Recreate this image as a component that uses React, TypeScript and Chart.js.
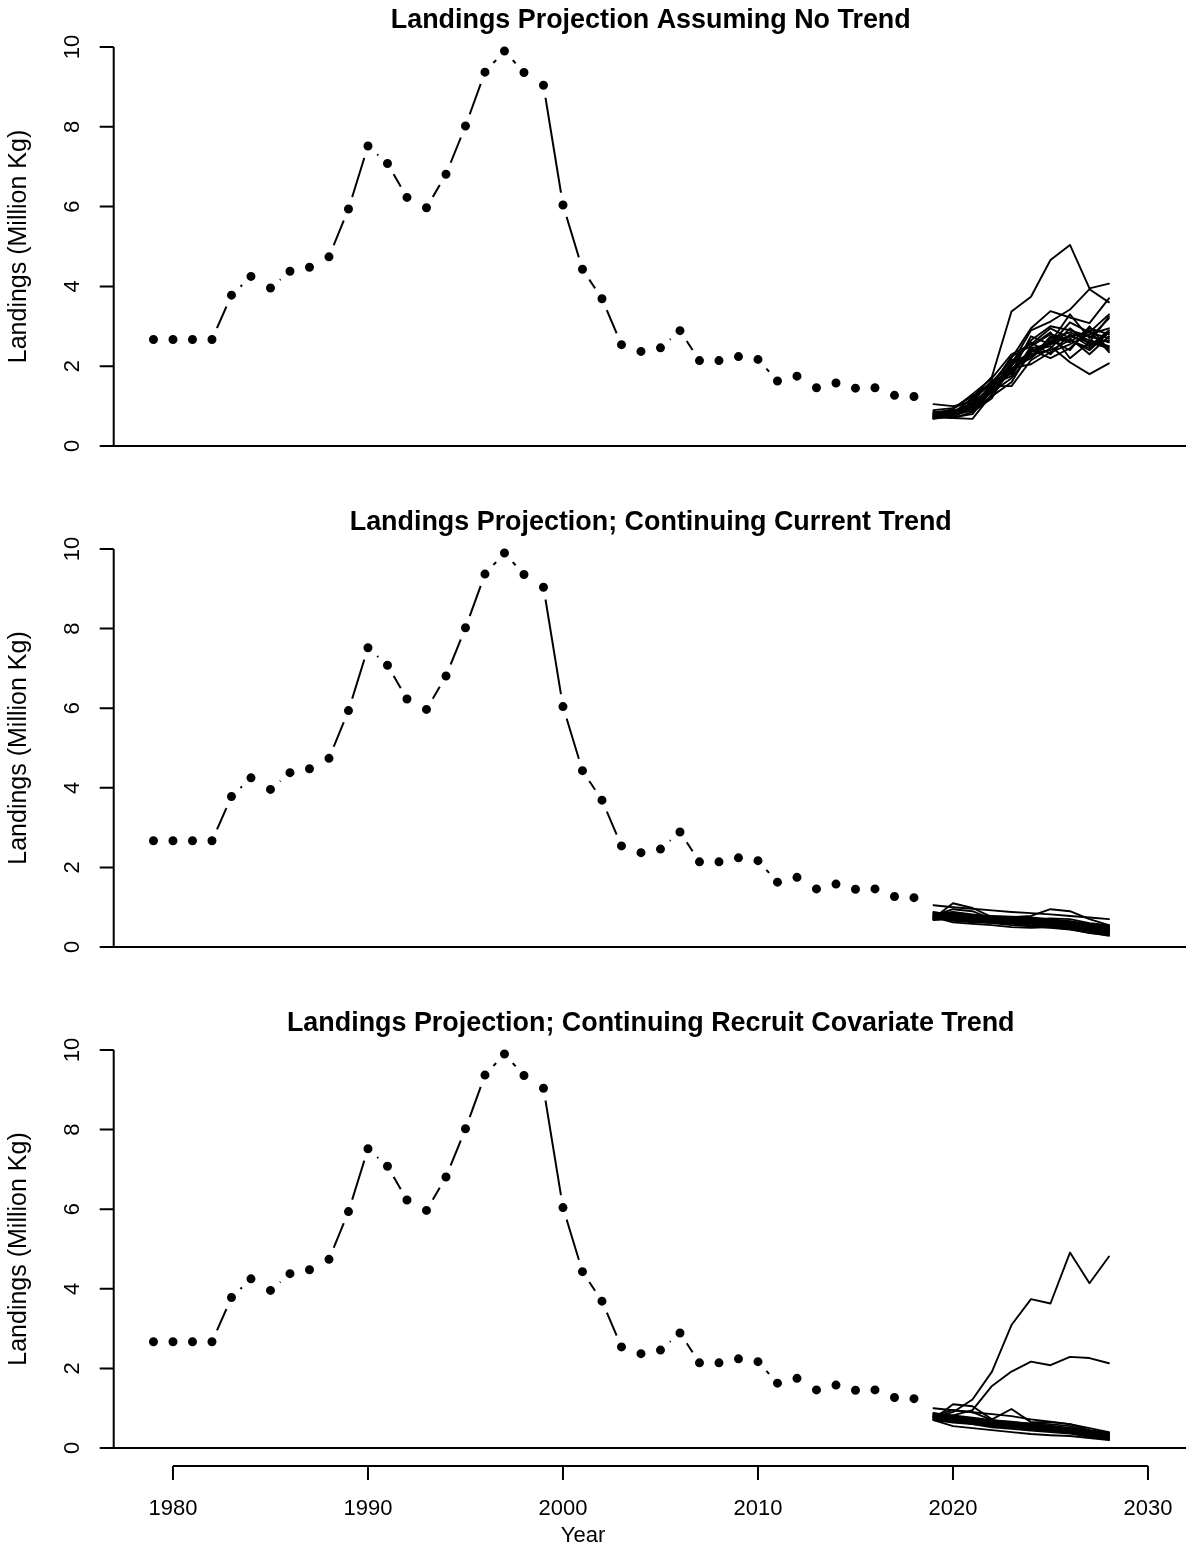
import React, { useEffect, useRef } from "react";
import { Chart, registerables } from "chart.js";

Chart.register(...registerables);

// ---------- data ----------
const histYears = [
  1979, 1980, 1981, 1982, 1983, 1984, 1985, 1986, 1987, 1988, 1989, 1990, 1991, 1992,
  1993, 1994, 1995, 1996, 1997, 1998, 1999, 2000, 2001, 2002, 2003, 2004, 2005, 2006,
  2007, 2008, 2009, 2010, 2011, 2012, 2013, 2014, 2015, 2016, 2017, 2018,
];
const histLandings = [
  2.67, 2.67, 2.67, 2.67, 3.78, 4.25, 3.96, 4.38, 4.48, 4.74, 5.94, 7.52, 7.08, 6.23,
  5.97, 6.81, 8.02, 9.37, 9.9, 9.36, 9.04, 6.04, 4.43, 3.69, 2.54, 2.37, 2.46, 2.89,
  2.14, 2.14, 2.24, 2.17, 1.63, 1.75, 1.46, 1.58, 1.45, 1.46, 1.27, 1.24,
];
const projYears = [2019, 2020, 2021, 2022, 2023, 2024, 2025, 2026, 2027, 2028];

const noTrendSims = [
  [0.75, 0.82, 1.2, 1.74, 3.37, 3.74, 4.66, 5.04, 3.95, 4.07],
  [0.78, 0.72, 1.0, 1.55, 2.2, 2.95, 3.38, 3.22, 3.08, 3.7],
  [0.7, 0.95, 1.25, 1.6, 2.05, 2.9, 3.12, 3.42, 3.93, 3.6],
  [1.05, 1.0, 1.1, 1.45, 1.85, 2.35, 2.6, 3.3, 2.7, 3.2],
  [0.72, 0.7, 0.68, 1.3, 1.9, 2.4, 2.5, 2.1, 1.8, 2.07],
  [0.8, 0.85, 1.05, 1.4, 2.1, 2.6, 2.3, 2.8, 2.5, 2.9],
  [0.68, 0.75, 0.95, 1.55, 1.95, 2.2, 2.75, 2.6, 2.95, 2.8],
  [0.85, 0.9, 0.85, 1.5, 2.25, 2.5, 2.85, 2.2, 2.6, 2.45],
  [0.74, 0.8, 1.1, 1.65, 1.8, 2.45, 2.55, 2.75, 2.85, 2.7],
  [0.82, 0.78, 0.92, 1.35, 1.7, 2.3, 2.4, 2.65, 2.4, 2.85],
  [0.7, 0.88, 1.05, 1.45, 2.0, 2.65, 3.0, 2.9, 2.75, 2.6],
  [0.77, 0.72, 0.8, 1.4, 1.95, 2.05, 2.35, 2.55, 2.8, 2.95],
  [0.9, 0.95, 1.15, 1.6, 2.15, 2.25, 2.7, 2.85, 2.65, 2.5],
  [0.73, 0.76, 0.9, 1.25, 1.6, 2.4, 2.2, 2.45, 2.9, 2.35],
  [0.79, 0.92, 1.3, 1.7, 2.3, 2.55, 2.95, 2.7, 2.3, 2.75],
  [0.71, 0.74, 0.98, 1.5, 1.5, 2.15, 2.45, 2.95, 2.55, 2.65],
  [0.86, 0.82, 1.0, 1.38, 1.85, 2.75, 2.55, 3.1, 2.85, 3.3],
  [0.76, 0.7, 0.85, 1.2, 2.05, 2.35, 2.65, 2.4, 3.0, 2.4],
  [0.69, 0.8, 1.2, 1.55, 1.75, 2.5, 2.8, 2.65, 2.45, 2.85],
  [0.81, 0.86, 0.95, 1.42, 2.1, 2.2, 2.6, 2.75, 2.6, 3.25],
];

const currentTrendSims = [
  [1.05, 1.0, 0.96, 0.92, 0.88, 0.85, 0.82, 0.78, 0.74, 0.7],
  [0.72, 1.1, 0.98, 0.75, 0.72, 0.7, 0.68, 0.6, 0.5, 0.4],
  [0.8, 0.78, 0.75, 0.72, 0.75, 0.78, 0.95, 0.9, 0.7, 0.55],
  [0.75, 0.62, 0.58, 0.55, 0.5, 0.48, 0.5, 0.45, 0.35, 0.3],
  [0.85, 0.82, 0.8, 0.78, 0.76, 0.74, 0.7, 0.65, 0.55, 0.45],
  [0.7, 0.75, 0.72, 0.68, 0.66, 0.62, 0.6, 0.58, 0.48, 0.42],
  [0.78, 0.95, 0.9, 0.7, 0.72, 0.68, 0.64, 0.62, 0.55, 0.5],
  [0.82, 0.7, 0.66, 0.64, 0.6, 0.58, 0.55, 0.5, 0.42, 0.35],
  [0.68, 0.72, 0.7, 0.66, 0.62, 0.66, 0.62, 0.58, 0.52, 0.48],
  [0.88, 0.8, 0.76, 0.72, 0.7, 0.72, 0.68, 0.64, 0.58, 0.52],
  [0.74, 0.68, 0.64, 0.62, 0.58, 0.55, 0.52, 0.48, 0.4, 0.32],
  [0.79, 0.84, 0.8, 0.76, 0.74, 0.7, 0.66, 0.62, 0.56, 0.46],
  [0.71, 0.76, 0.74, 0.7, 0.68, 0.64, 0.62, 0.56, 0.46, 0.38],
  [0.83, 0.88, 0.82, 0.74, 0.7, 0.68, 0.72, 0.7, 0.6, 0.55],
  [0.76, 0.66, 0.62, 0.6, 0.55, 0.52, 0.48, 0.44, 0.36, 0.28],
  [0.8, 0.74, 0.72, 0.7, 0.66, 0.6, 0.58, 0.54, 0.5, 0.44],
  [0.73, 0.8, 0.78, 0.72, 0.66, 0.64, 0.6, 0.56, 0.46, 0.4],
  [0.86, 0.78, 0.7, 0.68, 0.64, 0.62, 0.64, 0.6, 0.52, 0.48],
  [0.69, 0.7, 0.68, 0.65, 0.62, 0.6, 0.56, 0.52, 0.44, 0.36],
  [0.77, 0.82, 0.76, 0.7, 0.7, 0.66, 0.6, 0.58, 0.5, 0.42],
];

const covariateTrendSims = [
  [0.78, 0.9, 1.22, 1.92, 3.09, 3.74, 3.63, 4.91, 4.14, 4.81],
  [0.8, 0.82, 0.95, 1.56, 1.92, 2.17, 2.08, 2.29, 2.26, 2.13],
  [1.0, 0.95, 0.9, 0.85, 0.8, 0.72, 0.66, 0.6, 0.5, 0.4],
  [0.72, 1.1, 1.05, 0.72, 0.98, 0.65, 0.65, 0.6, 0.45, 0.38],
  [0.85, 0.75, 0.7, 0.65, 0.6, 0.55, 0.5, 0.45, 0.35, 0.28],
  [0.7, 0.55, 0.5, 0.45, 0.4, 0.35, 0.32, 0.3, 0.25, 0.2],
  [0.78, 0.72, 0.66, 0.62, 0.55, 0.5, 0.48, 0.42, 0.35, 0.3],
  [0.82, 0.95, 0.9, 0.7, 0.64, 0.6, 0.55, 0.5, 0.4, 0.32],
  [0.75, 0.68, 0.64, 0.6, 0.56, 0.52, 0.5, 0.44, 0.32, 0.25],
  [0.88, 0.8, 0.74, 0.68, 0.65, 0.62, 0.6, 0.55, 0.42, 0.35],
  [0.74, 0.7, 0.62, 0.56, 0.5, 0.46, 0.42, 0.38, 0.3, 0.22],
  [0.8, 0.76, 0.72, 0.68, 0.62, 0.58, 0.52, 0.46, 0.38, 0.3],
  [0.7, 0.64, 0.6, 0.55, 0.52, 0.48, 0.44, 0.4, 0.34, 0.26],
  [0.84, 0.78, 0.7, 0.64, 0.6, 0.56, 0.54, 0.48, 0.36, 0.32],
  [0.76, 0.72, 0.68, 0.6, 0.56, 0.5, 0.46, 0.4, 0.3, 0.24],
  [0.79, 0.74, 0.66, 0.62, 0.58, 0.54, 0.5, 0.46, 0.4, 0.28],
  [0.72, 0.66, 0.62, 0.58, 0.54, 0.5, 0.48, 0.42, 0.38, 0.3],
  [0.86, 0.82, 0.76, 0.7, 0.66, 0.6, 0.56, 0.5, 0.44, 0.36],
  [0.73, 0.68, 0.6, 0.52, 0.48, 0.44, 0.4, 0.36, 0.28, 0.22],
  [0.81, 0.78, 0.74, 0.66, 0.6, 0.58, 0.52, 0.48, 0.42, 0.34],
];

const yTicks = [0, 2, 4, 6, 8, 10];
const xTicks = [1980, 1990, 2000, 2010, 2020, 2030];
const panelTitles = [
  "Landings Projection Assuming No Trend",
  "Landings Projection; Continuing Current Trend",
  "Landings Projection; Continuing Recruit Covariate Trend",
];
const yAxisTitle = "Landings (Million Kg)";
const xAxisTitle = "Year";

// ---------- style ----------
const FONT = '"Liberation Sans", Arial, Helvetica, sans-serif';
const X_MIN = 1976.96;
const X_MAX = 2031.95;

const rAxesPlugin = {
  id: "rAxes",
  afterDraw(chart: any, _args: any, opts: any) {
    const { ctx, chartArea } = chart;
    const xs = chart.scales.x;
    const ys = chart.scales.y;
    ctx.save();
    ctx.strokeStyle = "#000";
    ctx.fillStyle = "#000";
    ctx.lineWidth = 2;
    ctx.lineCap = "butt";
    const x0 = chartArea.left;
    const yTop = ys.getPixelForValue(10);
    const yBot = ys.getPixelForValue(0);
    // L-shaped box
    ctx.beginPath();
    ctx.moveTo(x0, yTop);
    ctx.lineTo(x0, yBot);
    ctx.lineTo(chartArea.right + 4, yBot);
    ctx.stroke();
    // y ticks
    ctx.beginPath();
    yTicks.forEach((v) => {
      const py = ys.getPixelForValue(v);
      ctx.moveTo(x0 - 14, py);
      ctx.lineTo(x0, py);
    });
    ctx.stroke();
    ctx.font = `22px ${FONT}`;
    ctx.textAlign = "center";
    ctx.textBaseline = "middle";
    yTicks.forEach((v) => {
      const py = ys.getPixelForValue(v);
      ctx.save();
      ctx.translate(73, py);
      ctx.rotate(-Math.PI / 2);
      ctx.fillText(String(v), 0, 0);
      ctx.restore();
    });
    // y title
    ctx.save();
    ctx.font = `25px ${FONT}`;
    ctx.translate(19, (yTop + yBot) / 2);
    ctx.rotate(-Math.PI / 2);
    ctx.fillText(yAxisTitle, 0, 0);
    ctx.restore();
    // main title
    ctx.font = `bold 26.9px ${FONT}`;
    ctx.fillText(opts.title, xs.getPixelForValue((X_MIN + 2032.04) / 2), yTop - 26);
    // x axis
    if (opts.showX) {
      const ay = yBot + 18;
      const xa = xs.getPixelForValue(xTicks[0]);
      const xb = xs.getPixelForValue(xTicks[xTicks.length - 1]);
      ctx.beginPath();
      ctx.moveTo(xa, ay);
      ctx.lineTo(xb, ay);
      xTicks.forEach((v) => {
        const px = xs.getPixelForValue(v);
        ctx.moveTo(px, ay);
        ctx.lineTo(px, ay + 14);
      });
      ctx.stroke();
      ctx.font = `22px ${FONT}`;
      xTicks.forEach((v) => {
        ctx.fillText(String(v), xs.getPixelForValue(v), yBot + 61);
      });
      ctx.fillText(xAxisTitle, 583, yBot + 88);
    }
    ctx.restore();
  },
};

type PanelProps = {
  title: string;
  sims: number[][];
  height: number;
  padTop: number;
  padBottom: number;
  showX: boolean;
};

function Panel({ title, sims, height, padTop, padBottom, showX }: PanelProps) {
  const ref = useRef<HTMLCanvasElement | null>(null);
  useEffect(() => {
    if (!ref.current) return;
    const history = {
      data: histYears.map((yr, i) => ({ x: yr, y: histLandings[i] })),
      borderColor: "#000",
      borderWidth: 2,
      pointRadius: 8.5,
      pointBackgroundColor: "#000",
      pointBorderColor: "#fff",
      pointBorderWidth: 8.0,
      pointHoverRadius: 8.5,
      tension: 0,
      clip: false as any,
      order: 1,
    };
    const projections = sims.map((s, k) => ({
      data: projYears.map((yr, i) => ({ x: yr, y: s[i] })),
      borderColor: "#000",
      borderWidth: 1.9,
      pointRadius: 0,
      tension: 0,
      borderJoinStyle: "round" as const,
      borderCapStyle: "round" as const,
      clip: false as any,
      order: 2 + k,
    }));
    const chart = new Chart(ref.current, {
      type: "line",
      data: { datasets: [history, ...projections] as any },
      options: {
        responsive: false,
        animation: false,
        devicePixelRatio: 1,
        events: [],
        layout: { autoPadding: false, padding: { left: 113.7, right: 0, top: padTop, bottom: padBottom } },
        scales: {
          x: { type: "linear", min: X_MIN, max: X_MAX, display: false },
          y: { type: "linear", min: 0, max: 10, display: false },
        },
        plugins: {
          legend: { display: false },
          tooltip: { enabled: false },
          title: { display: false },
          rAxes: { title, showX },
        } as any,
      } as any,
      plugins: [rAxesPlugin],
    });
    return () => chart.destroy();
  }, [title, sims, height, padTop, padBottom, showX]);
  return <canvas ref={ref} width={1186} height={height} style={{ display: "block" }} />;
}

export default function App() {
  return (
    <div style={{ position: "absolute", left: 0, top: 0, width: 1186, height: 1546, background: "#fff", overflow: "hidden" }}>
      <Panel title={panelTitles[0]} sims={noTrendSims} height={500} padTop={47} padBottom={54} showX={false} />
      <Panel title={panelTitles[1]} sims={currentTrendSims} height={501} padTop={49} padBottom={54} showX={false} />
      <Panel title={panelTitles[2]} sims={covariateTrendSims} height={545} padTop={49} padBottom={98} showX={true} />
    </div>
  );
}
